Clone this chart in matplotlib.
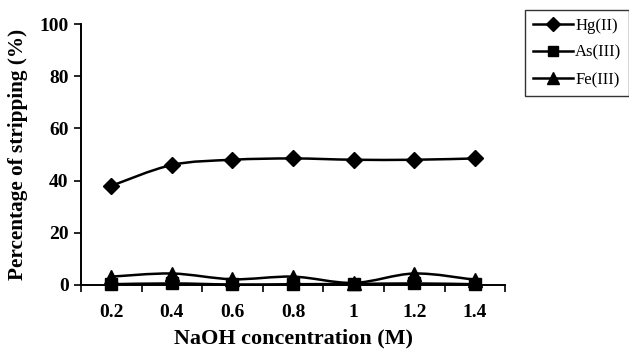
import numpy as np
import matplotlib.pyplot as plt
from matplotlib.path import Path
from matplotlib.patches import PathPatch
from matplotlib.lines import Line2D

naoh = ['0.2', '0.4', '0.6', '0.8', '1', '1.2', '1.4']
hg = [38.0, 46.0, 48.0, 48.5, 48.0, 48.0, 48.5]
as_ = [0.3, 0.6, 0.2, 0.3, 0.4, 0.6, 0.3]
fe = [3.2, 4.4, 2.2, 3.2, 0.8, 4.4, 2.0]

plt.rcParams['font.family'] = 'Liberation Serif'


def smooth_path(x, y):
    # Catmull-Rom style bezier through the points, like a spreadsheet "smoothed line"
    x = np.asarray(x, float)
    y = np.asarray(y, float)
    verts = [(x[0], y[0])]
    codes = [Path.MOVETO]
    n = len(x)
    for i in range(n - 1):
        p0 = (x[max(i - 1, 0)], y[max(i - 1, 0)])
        p1 = (x[i], y[i])
        p2 = (x[i + 1], y[i + 1])
        p3 = (x[min(i + 2, n - 1)], y[min(i + 2, n - 1)])
        c1 = (p1[0] + (p2[0] - p0[0]) / 6, p1[1] + (p2[1] - p0[1]) / 6)
        c2 = (p2[0] - (p3[0] - p1[0]) / 6, p2[1] - (p3[1] - p1[1]) / 6)
        verts += [c1, c2, p2]
        codes += [Path.CURVE4] * 3
    return Path(verts, codes)


fig = plt.figure(figsize=(6.29, 3.49), dpi=100)
ax = fig.add_axes([0.1288, 0.1834, 0.6742, 0.7476])

pos = np.arange(len(naoh))
series = [(hg, 'D', 'Hg(II)', 8.5), (as_, 's', 'As(III)', 9), (fe, '^', 'Fe(III)', 9.5)]
handles = []
for vals, mk, name, ms in series:
    ax.add_patch(PathPatch(smooth_path(pos, vals), fill=False, ec='black', lw=1.8,
                           zorder=3, clip_on=False))
    ax.plot(pos, vals, ls='none', marker=mk, ms=ms, color='black', zorder=4,
            clip_on=False)
    handles.append(Line2D([], [], color='black', lw=1.8, marker=mk, ms=ms - 1.5))

ax.set_xlim(-0.5, len(naoh) - 0.5)
ax.set_ylim(0, 100)
ax.set_yticks(range(0, 101, 20))
ax.set_xticks(pos)
ax.set_xticklabels(naoh)
ax.set_xticks(np.arange(-0.5, len(naoh), 1.0), minor=True)
ax.tick_params(axis='x', which='major', length=0, pad=14)
ax.tick_params(axis='x', which='minor', length=5, width=1.2, direction='out')
ax.tick_params(axis='y', length=5, width=1.2, direction='out', pad=4)
for lab in ax.get_xticklabels() + ax.get_yticklabels():
    lab.set_fontsize(14)
    lab.set_fontweight('bold')

for s in ['top', 'right']:
    ax.spines[s].set_visible(False)
for s in ['left', 'bottom']:
    ax.spines[s].set_linewidth(1.4)

ax.set_xlabel('NaOH concentration (M)', fontsize=15.9, fontweight='bold', labelpad=5)
ax.set_ylabel('Percentage of stripping (%)', fontsize=15.3, fontweight='bold', labelpad=8)

leg = fig.legend(handles, [s[2] for s in series], loc='upper left',
                 bbox_to_anchor=(0.8347, 0.9713), borderaxespad=0, frameon=True,
                 fancybox=False, edgecolor='black', fontsize=12, handlelength=2.4,
                 handletextpad=0.15, labelspacing=0.68, borderpad=0.45)
leg.get_frame().set_linewidth(1.0)

fig.savefig('out.png', dpi=100)
